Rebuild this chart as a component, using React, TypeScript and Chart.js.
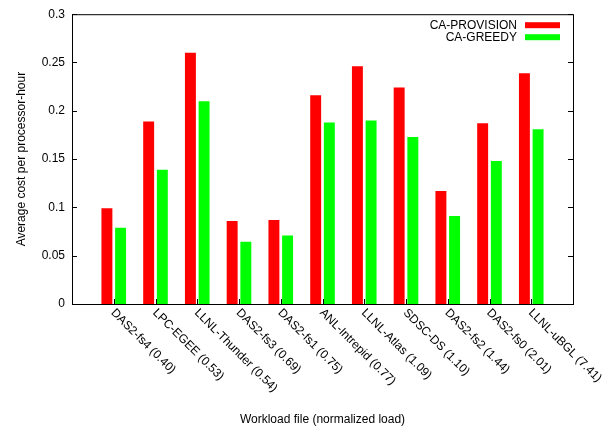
import React, { useEffect, useRef } from 'react';
import { Chart, registerables } from 'chart.js';

Chart.register(...registerables);

const FONT = '"Liberation Sans", Arial, Helvetica, sans-serif';

const categories = [
  'DAS2-fs4 (0.40)',
  'LPC-EGEE (0.53)',
  'LLNL-Thunder (0.54)',
  'DAS2-fs3 (0.69)',
  'DAS2-fs1 (0.75)',
  'ANL-Intrepid (0.77)',
  'LLNL-Atlas (1.09)',
  'SDSC-DS (1.10)',
  'DAS2-fs2 (1.44)',
  'DAS2-fs0 (2.01)',
  'LLNL-uBGL (7.41)',
];
const caProvision = [0.099, 0.189, 0.26, 0.086, 0.087, 0.216, 0.246, 0.224, 0.117, 0.187, 0.239];
const caGreedy = [0.079, 0.139, 0.21, 0.0645, 0.071, 0.188, 0.19, 0.173, 0.091, 0.148, 0.181];
const yTicks = [0, 0.05, 0.1, 0.15, 0.2, 0.25, 0.3];
const seriesNames = ['CA-PROVISION', 'CA-GREEDY'];
const seriesColors = ['#ff0000', '#00ff00'];

const framePlugin = {
  id: 'gnuplotFrame',
  afterDatasetsDraw(chart: any) {
    const { ctx, chartArea: a, scales } = chart;
    const xs = scales.x;
    const ys = scales.y;
    ctx.save();
    ctx.strokeStyle = '#000';
    ctx.lineWidth = 1;
    ctx.beginPath();
    for (const v of yTicks) {
      const py = Math.round(ys.getPixelForValue(v)) + 0.5;
      ctx.moveTo(a.left, py);
      ctx.lineTo(a.left + 5, py);
      ctx.moveTo(a.right, py);
      ctx.lineTo(a.right - 5, py);
    }
    categories.forEach((_, i) => {
      const px = Math.round(xs.getPixelForValue(i + 1)) + 0.5;
      ctx.moveTo(px, a.bottom);
      ctx.lineTo(px, a.bottom - 5);
    });
    ctx.stroke();
    ctx.strokeRect(a.left + 0.5, a.top + 0.5, a.right - a.left, a.bottom - a.top);

    // rotated category labels
    ctx.fillStyle = '#000';
    ctx.font = `12px ${FONT}`;
    ctx.textAlign = 'left';
    ctx.textBaseline = 'middle';
    categories.forEach((c, i) => {
      const px = xs.getPixelForValue(i + 1);
      ctx.save();
      ctx.translate(px - 1, a.bottom + 7);
      ctx.rotate(Math.PI / 4);
      ctx.fillText(c, 0, 0);
      ctx.restore();
    });

    // legend (gnuplot style: text right-aligned, sample on the right)
    chart.data.datasets.forEach((ds: any, k: number) => {
      const cy = a.top + 11 + k * 12;
      ctx.fillStyle = '#000';
      ctx.textAlign = 'right';
      ctx.fillText(ds.label, a.right - 56, cy);
      ctx.fillStyle = ds.backgroundColor;
      ctx.fillRect(a.right - 48, cy - 3, 35, 6);
    });
    ctx.restore();
  },
};

export default function App() {
  const ref = useRef<HTMLCanvasElement | null>(null);

  useEffect(() => {
    if (!ref.current) return;
    const labels = ['', ...categories, ''];
    const chart = new Chart(ref.current, {
      type: 'bar',
      data: {
        labels,
        datasets: [caProvision, caGreedy].map((vals, k) => ({
          label: seriesNames[k],
          data: [null, ...vals, null],
          backgroundColor: seriesColors[k],
          borderWidth: 0,
          categoryPercentage: 0.655,
          barPercentage: 0.8,
        })),
      },
      options: {
        animation: false,
        responsive: false,
        devicePixelRatio: 1,
        layout: { padding: { top: 11, right: 29, bottom: 0, left: 0 } },
        plugins: {
          legend: { display: false },
          tooltip: { enabled: false },
        },
        scales: {
          x: {
            type: 'category',
            offset: false,
            grid: { display: false, drawTicks: false },
            border: { display: false },
            ticks: { display: false },
            title: {
              display: true,
              text: 'Workload file (normalized load)',
              color: '#000',
              font: { family: FONT, size: 12 },
              padding: { top: 0, bottom: 1 },
            },
            afterFit: (s: any) => {
              s.height = 124;
            },
          },
          y: {
            min: 0,
            max: 0.3,
            grid: { display: false, drawTicks: false },
            border: { display: false },
            afterBuildTicks: (s: any) => {
              s.ticks = yTicks.map((v) => ({ value: v }));
            },
            ticks: {
              color: '#000',
              font: { family: FONT, size: 12 },
              padding: 7,
              callback: (v: any) => String(v),
            },
            title: {
              display: true,
              text: 'Average cost per processor-hour',
              color: '#000',
              font: { family: FONT, size: 12 },
              padding: { top: 14.5, bottom: 0 },
            },
            afterFit: (s: any) => {
              s.width = 72;
            },
          },
        },
      },
      plugins: [framePlugin],
    });
    return () => chart.destroy();
  }, []);

  return (
    <div style={{ position: 'fixed', left: 0, top: 0, width: 602, height: 428, background: '#fff' }}>
      <canvas ref={ref} width={602} height={428} style={{ display: 'block', width: 602, height: 428 }} />
    </div>
  );
}
